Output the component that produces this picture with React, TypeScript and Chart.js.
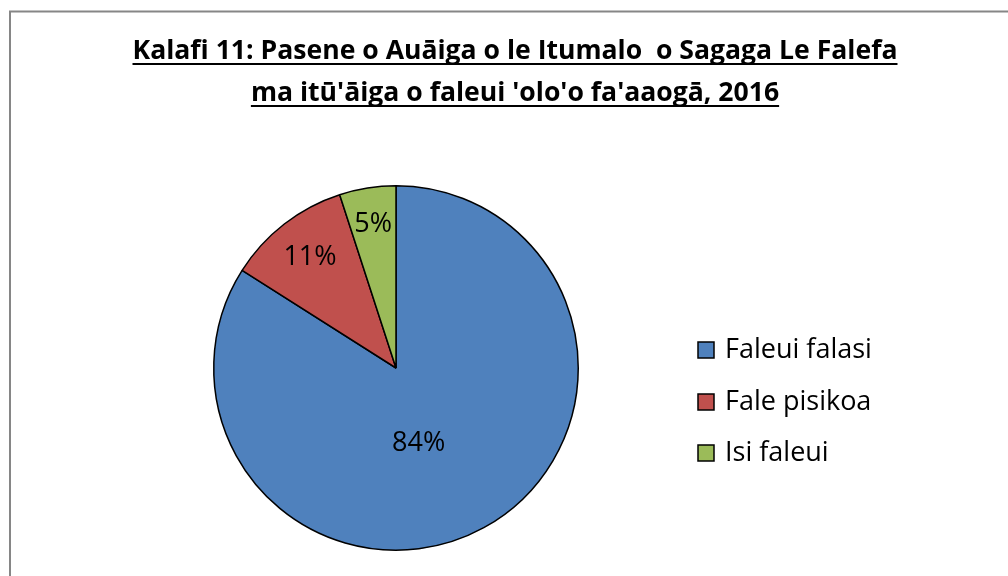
import React, { useEffect, useRef } from "react";
import { Chart, registerables } from "chart.js";

Chart.register(...registerables);

const titleLines = [
  "Kalafi 11: Pasene o Auāiga o le Itumalo  o Sagaga Le Falefa",
  "ma itū'āiga o faleui 'olo'o fa'aaogā, 2016",
];
const categories = ["Faleui falasi", "Fale pisikoa", "Isi faleui"];
const values = [84, 11, 5];
const colors = ["#4F81BD", "#C0504D", "#9BBB59"];

const FONT = "'Open Sans', Lato, sans-serif";

// label placement (radius fraction, angle shift in degrees)
const labelRadius = [0.43, 0.77, 0.8];
const labelShift = [12, 0, 0];

const decorPlugin = {
  id: "decor",
  beforeDraw(chart: any) {
    const ctx = chart.ctx;
    ctx.save();
    ctx.fillStyle = "#ffffff";
    ctx.fillRect(0, 0, chart.width, chart.height);
    ctx.strokeStyle = "#868686";
    ctx.lineWidth = 2;
    ctx.beginPath();
    ctx.moveTo(10, chart.height + 5);
    ctx.lineTo(10, 11.5);
    ctx.lineTo(chart.width + 5, 11.5);
    ctx.stroke();
    ctx.restore();
  },
  afterDraw(chart: any) {
    const ctx = chart.ctx;
    ctx.save();
    // title (fit first line to the reference width)
    ctx.fillStyle = "#000";
    ctx.font = `bold 24px ${FONT}`;
    const w0 = ctx.measureText(titleLines[0]).width;
    const size = Math.min(28, (24 * 765) / w0);
    ctx.font = `bold ${size.toFixed(2)}px ${FONT}`;
    ctx.textAlign = "center";
    ctx.textBaseline = "alphabetic";
    const cx = 515;
    const baselines = [59, 101];
    titleLines.forEach((t, i) => {
      ctx.fillText(t, cx, baselines[i]);
      const w = ctx.measureText(t).width;
      ctx.fillRect(cx - w / 2, baselines[i] + 4, w, 2);
    });

    // slice labels
    const meta = chart.getDatasetMeta(0);
    ctx.font = `27px ${FONT}`;
    ctx.textBaseline = "middle";
    const total = values.reduce((a, b) => a + b, 0);
    meta.data.forEach((arc: any, i: number) => {
      const p = arc.getProps(["x", "y", "startAngle", "endAngle", "outerRadius"], true);
      const mid = (p.startAngle + p.endAngle) / 2 + (labelShift[i] * Math.PI) / 180;
      const r = p.outerRadius * labelRadius[i];
      ctx.fillText(
        Math.round((values[i] / total) * 100) + "%",
        p.x + Math.cos(mid) * r,
        p.y + Math.sin(mid) * r
      );
    });

    // legend
    ctx.textAlign = "left";
    ctx.font = `27px ${FONT}`;
    const ly = [350, 402, 453];
    categories.forEach((c, i) => {
      ctx.fillStyle = colors[i];
      ctx.fillRect(698, ly[i] - 8, 16, 16);
      ctx.strokeStyle = "#000";
      ctx.lineWidth = 1.5;
      ctx.strokeRect(698, ly[i] - 8, 16, 16);
      ctx.fillStyle = "#000";
      ctx.fillText(c, 725, ly[i]);
    });
    ctx.restore();
  },
};

export default function App() {
  const ref = useRef<HTMLCanvasElement | null>(null);
  useEffect(() => {
    document.body.style.margin = "0";
    document.body.style.overflow = "hidden";
    const chart = new Chart(ref.current as HTMLCanvasElement, {
      type: "pie",
      data: {
        labels: categories,
        datasets: [
          {
            data: values,
            backgroundColor: colors,
            borderColor: "#000000",
            borderWidth: 1.5,
          },
        ],
      },
      options: {
        animation: false,
        responsive: false,
        events: [],
        layout: { padding: { top: 185, bottom: 25, left: 213, right: 429 } },
        plugins: {
          legend: { display: false },
          title: { display: false },
          tooltip: { enabled: false },
        },
      },
      plugins: [decorPlugin],
    });
    return () => chart.destroy();
  }, []);
  return (
    <div style={{ position: "fixed", left: 0, top: 0, width: 1008, height: 576 }}>
      <canvas ref={ref} width={1008} height={576} style={{ width: 1008, height: 576 }} />
    </div>
  );
}
